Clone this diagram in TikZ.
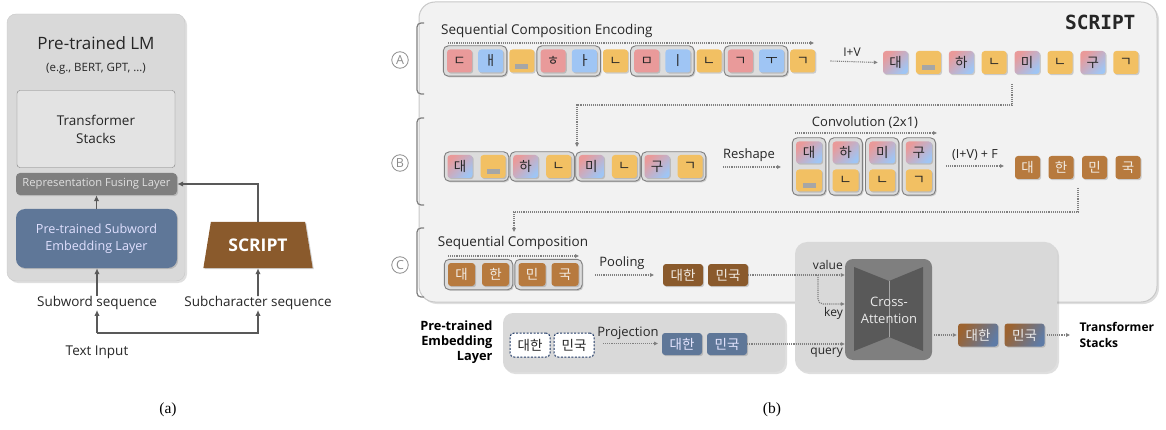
\documentclass[tikz,border=0pt]{standalone}
\usepackage{fontspec}
\setmainfont{Open Sans}
\newfontfamily\kr{Noto Sans CJK KR}
\newfontfamily\capfont{Liberation Serif}
\newfontfamily\monofont{DejaVu Sans Mono}
\usetikzlibrary{arrows.meta,shapes.geometric,shadows,fit}

\definecolor{cline}{HTML}{595959}
\definecolor{dotc}{HTML}{808080}
\definecolor{tdark}{HTML}{262626}
\definecolor{tred}{HTML}{E99A9A}
\definecolor{tblue}{HTML}{9FC5F4}
\definecolor{tyel}{HTML}{F2C063}
\definecolor{barc}{HTML}{A6A6A6}
\definecolor{brwn}{HTML}{B77A3E}
\definecolor{dbrwn}{HTML}{8A5A2C}
\definecolor{embblue}{HTML}{5F7798}
\definecolor{ltext}{HTML}{F2ECE4}
\definecolor{panelf}{HTML}{F2F2F2}
\definecolor{panelb}{HTML}{C8C8C8}
\definecolor{grpf}{HTML}{DCDCDC}
\definecolor{grpd}{HTML}{7F7F7F}
\definecolor{boxf}{HTML}{D9D9D9}
\definecolor{circg}{HTML}{8C8C8C}
\definecolor{outbrown}{HTML}{9C6330}
\definecolor{outblue}{HTML}{5E7BA6}
\definecolor{navy}{HTML}{1F3864}
\definecolor{fusef}{HTML}{7F7F7F}
\definecolor{cagray}{HTML}{7F7F7F}
\definecolor{cadark}{HTML}{595959}
\definecolor{lmfill}{HTML}{D9D9D9}
\definecolor{tsfill}{HTML}{E3E3E3}

\pgfdeclarelayer{back}
\pgfdeclarelayer{mid}
\pgfsetlayers{back,mid,main}

\tikzset{
  fs/.style={font=\fontsize{#1}{#1}\selectfont},
  shd/.style={drop shadow={shadow xshift=1.2pt,shadow yshift=-1.2pt,opacity=0.35}},
  softshd/.style={drop shadow={shadow xshift=2pt,shadow yshift=-2pt,opacity=0.25}},
  lineA/.style={draw=cline, line width=1.8pt},
  arrA/.style={lineA, -{Latex[length=6pt,width=5.5pt]}},
  dotline/.style={draw=dotc, densely dotted, line width=1.1pt},
  dotarr/.style={dotline, -{Triangle[length=4pt,width=3.5pt]}},
  tile/.style={shd, rounded corners=3pt, minimum width=25pt, minimum height=23pt,
    inner sep=0pt, text=tdark, font=\kr\fontsize{13.5}{13.5}\selectfont},
  tr/.style={tile, fill=tred},
  tb/.style={tile, fill=tblue},
  ty/.style={tile, fill=tyel},
  tg/.style={tile, top color=tred, bottom color=tblue, shading angle=45},
  bt/.style={tile, fill=brwn, text=ltext},
  wide/.style={minimum width=40pt, minimum height=22pt},
  grp/.style={shd, draw=grpd, fill=grpf, rounded corners=5pt, line width=0.9pt, inner sep=3.5pt},
  lab/.style={text=tdark, inner sep=0pt},
  brk/.style={draw=grpd, line width=1.2pt, rounded corners=4pt},
  circlet/.style={circle, draw=circg, text=circg, line width=0.8pt, inner sep=0pt,
    minimum size=16.5pt, font=\fontsize{12.5}{12.5}\selectfont},
}
\newcommand\gapbar[1]{\fill[barc] ([xshift=-6.5pt,yshift=-3pt]#1.center) rectangle ([xshift=6.5pt,yshift=-8pt]#1.center);}

\begin{document}
\begin{tikzpicture}[x=1pt,y=-1pt]
\useasboundingbox (0,0) rectangle (1166,430);

% ---------------- (a) overview ----------------
\begin{pgfonlayer}{back}
\node[softshd, draw=panelb, fill=lmfill, rounded corners=9pt, minimum width=178pt, minimum height=267pt] (lm) at (96,147.5) {};
\end{pgfonlayer}
\node[lab, fs=17] (lmt) at (96,43) {Pre-trained LM};
\node[lab, fs=11.5] (lme) at (96,69) {(e.g., BERT, GPT, \ldots)};
\node[draw=grpd, fill=tsfill, rounded corners=3pt, minimum width=158pt, minimum height=77pt,
  align=center, text=tdark, font=\fontsize{13.5}{18}\selectfont] (tsa) at (96,129) {Transformer\\Stacks};
\node[shd, fill=fusef, rounded corners=4pt, minimum width=161pt, minimum height=22pt,
  text=black!12, fs=11.2] (fuse) at (96.5,184) {Representation Fusing Layer};
\node[shd, fill=embblue, rounded corners=9pt, minimum width=161pt, minimum height=59pt,
  text=white!88!blue, align=center, font=\fontsize{12.6}{17.5}\selectfont] (emb) at (96.5,238.5) {Pre-trained Subword\\Embedding Layer};
\node[lab, fs=13.5] (sw) at (97,303) {Subword sequence};
\node[lab, fs=13.5] (ti) at (97,352) {Text Input};
\node[lab, fs=13.5] (sc) at (258,303) {Subcharacter sequence};
\node[shd, trapezium, trapezium stretches=true, trapezium left angle=75, trapezium right angle=75,
  minimum width=110pt, minimum height=46pt, fill=dbrwn, text=white,
  font=\bfseries\fontsize{17.5}{17.5}\selectfont] (scr) at (258,245) {SCRIPT};
\coordinate (split) at (97,333);

\draw[arrA] (emb.north) -- (emb.north |- fuse.south);
\draw[arrA] (sw.north) -- (sw.north |- emb.south);
\draw[arrA] (split) -- (sw.south);
\draw[arrA] (split) -| (sc.south);
\draw[arrA] (sc.north) -- (scr.south);
\draw[arrA] (scr.north) |- (fuse.east);

\node[font=\capfont\fontsize{15.5}{15.5}\selectfont] (capa) at (168,410) {(a)};
\node[font=\capfont\fontsize{15.5}{15.5}\selectfont] (capb) at (772,410) {(b)};

% ---------------- (b) SCRIPT detail ----------------
\begin{pgfonlayer}{back}
\node[softshd, draw=panelb, fill=panelf, rounded corners=16pt, line width=1pt,
  minimum width=738pt, minimum height=300pt] (bigp) at (788,152) {};
\node[softshd, fill=boxf, rounded corners=12pt, minimum width=262pt, minimum height=130pt] (caP) at (926,307) {};
\node[softshd, fill=boxf, rounded corners=10pt, minimum width=282pt, minimum height=59pt] (embP) at (644,342.5) {};
\end{pgfonlayer}

\node[anchor=east, text=tdark, font=\monofont\bfseries\fontsize{19.5}{19.5}\selectfont] (ttl) at (1139,22) {SCRIPT};

% stage brackets and markers
\draw[brk] (424,23) -- (417,23) -- (417,94) -- (424,94);
\draw[brk] (424,118) -- (417,118) -- (417,205) -- (424,205);
\draw[brk] (424,228) -- (417,228) -- (417,297) -- (424,297);
\node[circlet] (cA) at (400,60) {A};
\node[circlet] (cB) at (400,163) {B};
\node[circlet] (cC) at (400,265) {C};

% --- stage A
\node[lab, fs=13.5, anchor=west] (seqA) at (441,31) {Sequential Composition Encoding};
\coordinate (sA0) at (448,43);
\coordinate (sA1) at (814,43);
\draw[dotarr] (sA0) -- (sA1);
\foreach \i/\s/\t in {1/tr/ㄷ,2/tb/ㅐ,3/ty/{},4/tr/ㅎ,5/tb/ㅏ,6/ty/ㄴ,7/tr/ㅁ,8/tb/ㅣ,9/ty/ㄴ,10/tr/ㄱ,11/tb/ㅜ,12/ty/ㄱ}
  \node[\s] (a\i) at ({459.5+31.2*(\i-1)},61) {\t};
\gapbar{a3}
\begin{pgfonlayer}{mid}
\node[grp, fit=(a1)(a2)] (gA1) {};
\node[grp, fit=(a4)(a5)] (gA2) {};
\node[grp, fit=(a7)(a8)] (gA3) {};
\node[grp, fit=(a10)(a11)] (gA4) {};
\end{pgfonlayer}
\node[lab, fs=12] (iv) at (852,52) {I+V};
\foreach \i/\s/\t in {1/tg/대,2/ty/{},3/tg/하,4/ty/ㄴ,5/tg/미,6/ty/ㄴ,7/tg/구,8/ty/ㄱ}
  \node[\s] (m\i) at ({895.5+32.9*(\i-1)},62.5) {\t};
\gapbar{m2}
\draw[dotarr] ([xshift=15pt]a12.east) -- ([xshift=-5pt]m1.west);

% A -> B
\coordinate (ab0) at (1012,84);
\coordinate (ab1) at (577,105);
\coordinate (ab2) at (577,147);
\draw[dotarr] (ab0) |- (ab1) -- (ab2);

% --- stage B
\foreach \k/\ta/\tb [count=\n from 0] in {1/대/{},2/하/ㄴ,3/미/ㄴ,4/구/ㄱ} {
  \node[tg] (b\k l) at ({460+65.7*\n},166.5) {\ta};
  \node[ty] (b\k r) at ({493+65.7*\n},166.5) {\tb};
}
\gapbar{b1r}
\begin{pgfonlayer}{mid}
\foreach \k in {1,...,4} \node[grp, inner sep=3pt] (gB\k) [fit=(b\k l)(b\k r)] {};
\end{pgfonlayer}
\node[lab, fs=13] (resh) at (749,155) {Reshape};
\coordinate (rs0) at (723,167);
\coordinate (rs1) at (781,167);
\draw[dotarr] (rs0) -- (rs1);

\node[lab, fs=13] (conv) at (865,123) {Convolution (2x1)};
\coordinate (cv0) at (795,133);
\coordinate (cv1) at (937,133);
\draw[dotarr] (cv0) -- (cv1);
\foreach \k/\ta/\tb [count=\n from 0] in {1/대/{},2/하/ㄴ,3/미/ㄴ,4/구/ㄱ} {
  \node[tg, minimum width=26pt, minimum height=22pt] (c\k) at ({809+36.6*\n},152.5) {\ta};
  \node[ty, minimum width=26pt, minimum height=22pt] (d\k) at ({809+36.6*\n},180.5) {\tb};
}
\gapbar{d1}
\begin{pgfonlayer}{mid}
\foreach \k in {1,...,4} \node[grp] (gC\k) [fit=(c\k)(d\k)] {};
\end{pgfonlayer}
\node[lab, fs=12.5] (ivf) at (975,155) {(I+V) + F};
\coordinate (iv0) at (946,166);
\coordinate (iv1) at (1004,166);
\draw[dotarr] (iv0) -- (iv1);
\foreach \t [count=\n from 0] in {대,한,민,국}
  \node[bt] (n\n) at ({1027.5+33.5*\n},167.5) {\t};

% B -> C
\coordinate (bc0) at (1078,188);
\coordinate (bc1) at (514,212);
\coordinate (bc2) at (514,232);
\draw[dotarr] (bc0) |- (bc1) -- (bc2);

% --- stage C
\node[lab, fs=13.5] (seqC) at (513,243) {Sequential Composition};
\coordinate (sC0) at (448,256);
\coordinate (sC1) at (579,256);
\draw[dotarr] (sC0) -- (sC1);
\node[bt, minimum width=27pt] (s1) at (461.5,274.5) {대};
\node[bt, minimum width=27pt] (s2) at (495.5,274.5) {한};
\node[bt, minimum width=27pt] (s3) at (532,274.5) {민};
\node[bt, minimum width=27pt] (s4) at (565,274.5) {국};
\begin{pgfonlayer}{mid}
\node[grp] (gS1) [fit=(s1)(s2)] {};
\node[grp] (gS2) [fit=(s3)(s4)] {};
\end{pgfonlayer}
\node[lab, fs=13] (pool) at (622,263) {Pooling};
\coordinate (pl0) at (595,275);
\coordinate (pl1) at (654,275);
\draw[dotarr] (pl0) -- (pl1);
\node[tile, wide, fill=dbrwn, text=ltext] (p1) at (683,275) {대한};
\node[tile, wide, fill=dbrwn, text=ltext] (p2) at (728,275) {민국};

% --- pre-trained embedding branch
\node[align=right, anchor=east, text=black, font=\bfseries\fontsize{12.8}{15}\selectfont] (pel) at (496,342) {Pre-trained\\Embedding\\Layer};
\node[draw=navy, dash pattern=on 2pt off 1.5pt, line width=1pt, fill=white, rounded corners=4pt,
  minimum width=40pt, minimum height=24pt, inner sep=0pt, text=tdark, font=\kr\fontsize{13.5}{13.5}\selectfont] (e1) at (530,345) {대한};
\node[draw=navy, dash pattern=on 2pt off 1.5pt, line width=1pt, fill=white, rounded corners=4pt,
  minimum width=40pt, minimum height=24pt, inner sep=0pt, text=tdark, font=\kr\fontsize{13.5}{13.5}\selectfont] (e2) at (574,345) {민국};
\node[lab, fs=13] (proj) at (628,333) {Projection};
\coordinate (pj0) at (603,343.5);
\coordinate (pj1) at (658,343.5);
\draw[dotarr] (pj0) -- (pj1);
\node[tile, wide, fill=embblue, text=white!90!blue] (q1) at (682,344) {대한};
\node[tile, wide, fill=embblue, text=white!90!blue] (q2) at (727,344) {민국};

% --- cross-attention
\node[fill=cagray, rounded corners=8pt, minimum width=87pt, minimum height=101pt] (ca) at (888.5,309.5) {};
\fill[cadark] (854,267) -- (889,281) -- (923,267) -- (923,351) -- (889,337) -- (854,351) -- cycle;
\draw[cagray!70!white, line width=0.5pt] (889,281) -- (889,337);
\node[text=black!8, align=center, font=\fontsize{13}{17}\selectfont] (cat) at (889,310) {Cross-\\Attention};

\node[lab, fs=12, anchor=east] (val) at (843,265) {value};
\node[lab, fs=12, anchor=east] (key) at (843,313) {key};
\node[lab, fs=12, anchor=east] (qry) at (843,353) {query};
\coordinate (kbr) at (818,275);
\draw[dotarr] (p2.east) -- (ca.west |- p2.east);
\draw[dotarr, rounded corners=5pt] (kbr) |- ([yshift=-29pt]ca.west |- p2.east);
\draw[dotarr] (q2.east) -- (ca.west |- q2.east);

\node[tile, wide, minimum height=23pt, top color=outbrown, bottom color=outblue, shading angle=60, text=white!92!black] (o1) at (978,335) {대한};
\node[tile, wide, minimum height=23pt, top color=outbrown, bottom color=outblue, shading angle=60, text=white!92!black] (o2) at (1024.5,335) {민국};
\draw[dotarr] ([xshift=2pt]ca.east |- o1.west) -- ([xshift=-1pt]o1.west);
\node[anchor=west, align=left, text=black, font=\bfseries\fontsize{12}{16}\selectfont] (tsb) at (1076,335) {Transformer\\Stacks};
\draw[dotarr] ([xshift=2pt]o2.east) -- ([xshift=-6pt]tsb.west);

\end{tikzpicture}
\end{document}
